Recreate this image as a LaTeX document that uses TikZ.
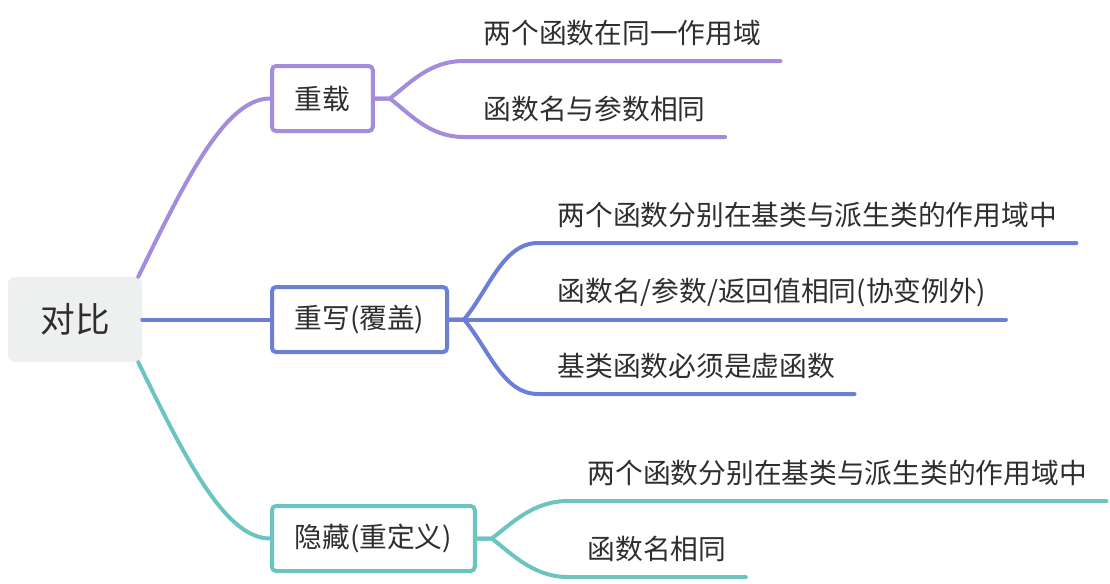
\documentclass[tikz,border=0pt]{standalone}
\usepackage{fontspec}
\usepackage{xcolor}
\usetikzlibrary{positioning}
\newfontfamily\cjk{Noto Sans CJK SC}
\definecolor{overPurple}{HTML}{A48BDD}
\definecolor{overBlue}  {HTML}{6C7FD7}
\definecolor{hideTeal}  {HTML}{6CC4C1}
\definecolor{rootGray}  {HTML}{EEF0F0}
\definecolor{textGray}  {HTML}{2E2E2E}
\tikzset{
  font=\cjk,
  root/.style={rectangle,rounded corners=5pt,draw=none,fill=rootGray,text=textGray,
    minimum width=100.5pt,minimum height=63.75pt,font=\cjk\fontsize{26}{30}\selectfont},
  branch/.style={rectangle,rounded corners=3pt,draw,line width=3pt,fill=white,text=textGray,
    minimum height=48.75pt,inner xsep=17pt,anchor=west,font=\cjk\fontsize{20.8}{24}\selectfont},
  leaf/.style={anchor=south west,inner xsep=14.5pt,inner ysep=13pt,text depth=0pt,text=textGray,
    font=\cjk\fontsize{20.8}{24}\selectfont},
  link/.style={line width=3pt,line cap=round},
}
\begin{document}
\begin{tikzpicture}[x=0.75pt,y=-0.75pt]
\useasboundingbox (0,0) rectangle (1110,583);

\node[root] (root) at (75,319.5) {对比};

% branches
\node[branch,draw=overPurple] (overload) at (270,98.5) {重载};
\node[branch,draw=overBlue] (override) at (270,319.5) {重写(覆盖)};
\node[branch,draw=hideTeal] (hiding) at (270,538.5) {隐藏(重定义)};

% leaves
\node[leaf] (ovA) at (464,61) {两个函数在同一作用域};
\node[leaf] (ovB) at (464,137) {函数名与参数相同};

\node[leaf] (orA) at (538,243) {两个函数分别在基类与派生类的作用域中};
\node[leaf] (orB) at (538,319.5) {函数名/参数/返回值相同(协变例外)};
\node[leaf] (orC) at (538,394) {基类函数必须是虚函数};

\node[leaf] (hdA) at (568,501) {两个函数分别在基类与派生类的作用域中};
\node[leaf] (hdB) at (568,577) {函数名相同};

% root to branches
\draw[link,overPurple] ([xshift=-3pt]root.north east) .. controls +(47,-96) and +(-45,0) .. (overload.west);
\draw[link,overBlue] (root.east) -- (override.west);
\draw[link,hideTeal] ([xshift=-3pt]root.south east) .. controls +(47,96) and +(-45,0) .. (hiding.west);

% branches to leaves
\draw[link,overPurple] (overload.east) -- ++(15,0) .. controls +(20,-15) and +(-35,0) .. (ovA.south west) -- (ovA.south east);
\draw[link,overPurple] (overload.east) -- ++(15,0) .. controls +(20,15) and +(-35,0) .. (ovB.south west) -- (ovB.south east);

\draw[link,overBlue] (override.east) -- ++(15,0) .. controls +(25,-30) and +(-35,0) .. (orA.south west) -- (orA.south east);
\draw[link,overBlue] (override.east) -- (orB.south west) -- (orB.south east);
\draw[link,overBlue] (override.east) -- ++(15,0) .. controls +(25,30) and +(-35,0) .. (orC.south west) -- (orC.south east);

\draw[link,hideTeal] (hiding.east) -- ++(15,0) .. controls +(20,-15) and +(-35,0) .. (hdA.south west) -- (hdA.south east);
\draw[link,hideTeal] (hiding.east) -- ++(15,0) .. controls +(20,15) and +(-35,0) .. (hdB.south west) -- (hdB.south east);

\end{tikzpicture}
\end{document}
